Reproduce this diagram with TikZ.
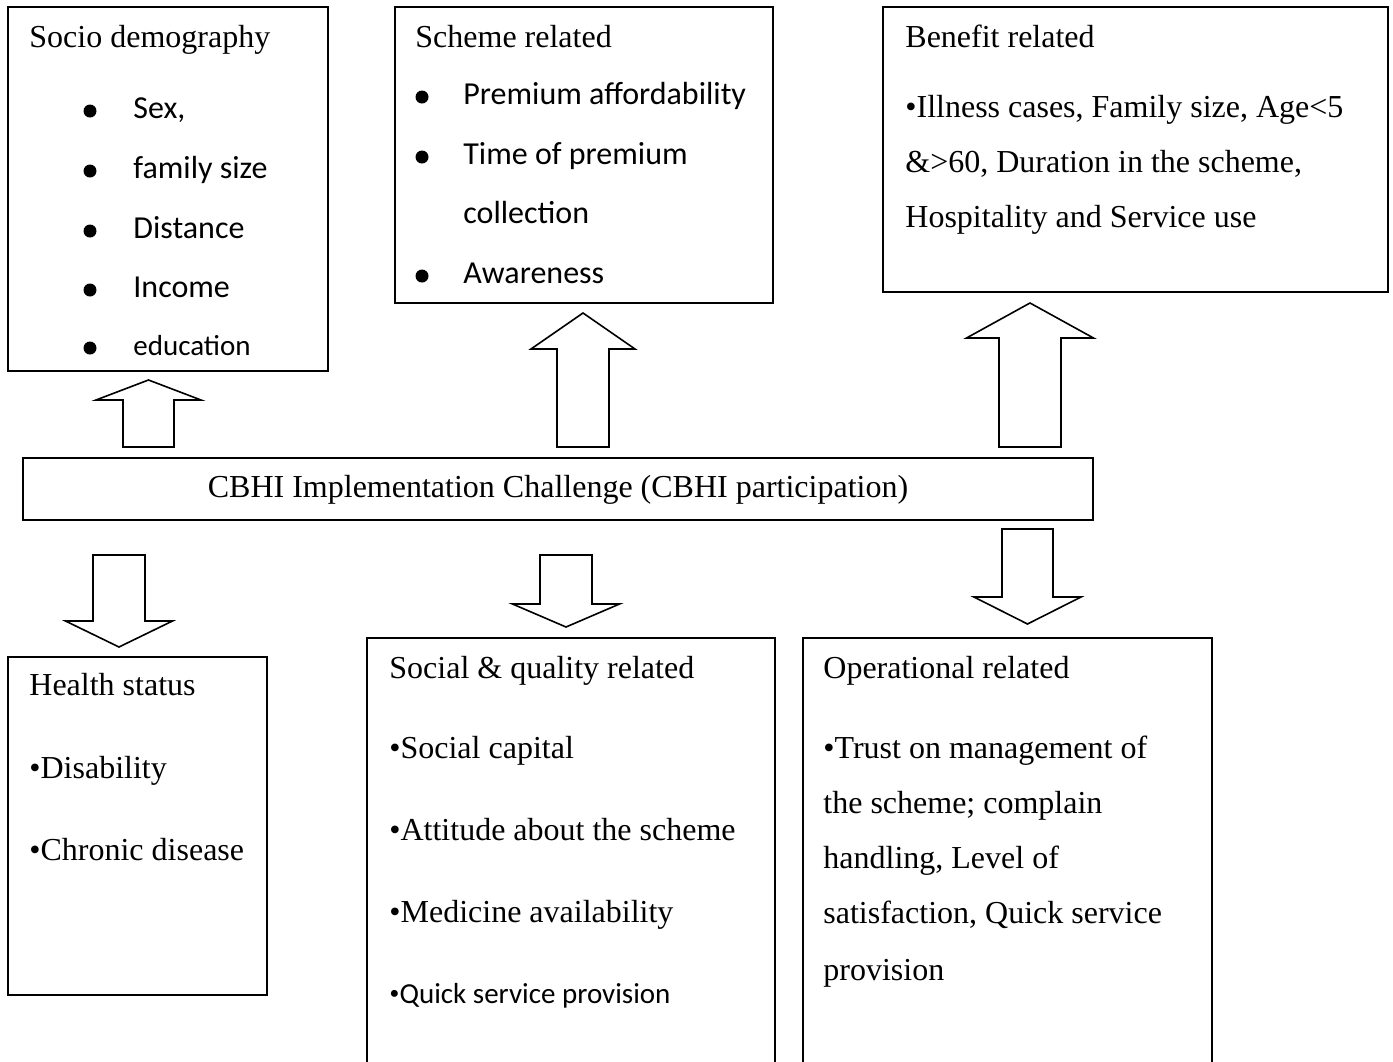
\documentclass[tikz,border=0pt]{standalone}
\usepackage{fontspec}
\setmainfont{Liberation Serif}
\newfontfamily\calibri{Carlito}
\usetikzlibrary{fit}

\tikzset{
  box/.style={draw, line width=0.8pt, inner sep=0pt},
  blockarr/.style={draw, line width=0.8pt, line join=miter},
  ttl/.style={anchor=base west, inner sep=0pt, font=\fontsize{16}{19}\selectfont},
  itm/.style={anchor=base west, inner sep=0pt, font=\calibri\fontsize{16}{19}\selectfont},
  smallitm/.style={itm, font=\calibri\fontsize{14.5}{17}\selectfont},
  ctr/.style={anchor=base, inner sep=0pt, font=\fontsize{16}{19}\selectfont},
  dot/.style={circle, fill, inner sep=0pt, minimum size=6.5pt},
}
% centre, tip, head base, end, head half width, shaft half width
\newcommand{\blockarrow}[6]{%
  \draw[blockarr] (#1,#2) -- ({#1+#5},#3) -- ({#1+#6},#3) -- ({#1+#6},#4)
    -- ({#1-#6},#4) -- ({#1-#6},#3) -- ({#1-#5},#3) -- cycle;}

\begin{document}
\begin{tikzpicture}[x=0.5pt, y=-0.5pt]
  \useasboundingbox (0,0) rectangle (1393,1061);

  % boxes
  \node[box, fit={(8,7) (328,371)}] (socio) {};
  \node[box, fit={(395,7) (773,303)}] (scheme) {};
  \node[box, fit={(883,7) (1388,292)}] (benefit) {};
  \node[box, fit={(23,458) (1093,520)}] (cbhi) {};
  \node[box, fit={(8,657) (267,995)}] (health) {};
  \node[box, fit={(367,638) (775,1080)}] (social) {};
  \node[box, fit={(803,638) (1212,1080)}] (oper) {};

  % socio demography
  \node[ttl] (socio-t) at (29,47) {Socio demography};
  \node[dot] (socio-d1) at (90,111) {};
  \node[dot] (socio-d2) at (90,171) {};
  \node[dot] (socio-d3) at (90,231) {};
  \node[dot] (socio-d4) at (90,290) {};
  \node[dot] (socio-d5) at (90,348) {};
  \node[itm] (socio-1) at (133,118) {Sex,};
  \node[itm] (socio-2) at (133,178) {family size};
  \node[itm] (socio-3) at (133,238) {Distance};
  \node[itm] (socio-4) at (133,297) {Income};
  \node[smallitm] (socio-5) at (133,355) {education};

  % scheme related
  \node[ttl] (scheme-t) at (415,47) {Scheme related};
  \node[dot] (scheme-d1) at (422,97) {};
  \node[dot] (scheme-d2) at (422,157) {};
  \node[dot] (scheme-d3) at (422,276) {};
  \node[itm] (scheme-1) at (463,104) {Premium affordability};
  \node[itm] (scheme-2) at (463,164) {Time of premium};
  \node[itm] (scheme-3) at (463,223) {collection};
  \node[itm] (scheme-4) at (463,283) {Awareness};

  % benefit related
  \node[ttl] (benefit-t) at (905,47) {Benefit related};
  \node[ttl] (benefit-1) at (905,117) {\textbullet Illness cases, Family size, Age<5};
  \node[ttl] (benefit-2) at (905,172) {\&>60, Duration in the scheme,};
  \node[ttl] (benefit-3) at (905,227) {Hospitality and Service use};

  % centre
  \node[ctr] (cbhi-t) at (558,497) {CBHI Implementation Challenge (CBHI participation)};

  % health status
  \node[ttl] (health-t) at (29,695) {Health status};
  \node[ttl] (health-1) at (29,778) {\textbullet Disability};
  \node[ttl] (health-2) at (29,860) {\textbullet Chronic disease};

  % social and quality
  \node[ttl] (social-t) at (389,678) {Social \& quality related};
  \node[ttl] (social-1) at (389,758) {\textbullet Social capital};
  \node[ttl] (social-2) at (389,840) {\textbullet Attitude about the scheme};
  \node[ttl] (social-3) at (389,922) {\textbullet Medicine availability};
  \node[smallitm] (social-4) at (389,1003) {{\normalfont\textbullet}Quick service provision};

  % operational
  \node[ttl] (oper-t) at (823,678) {Operational related};
  \node[ttl] (oper-1) at (823,758) {\textbullet Trust on management of};
  \node[ttl] (oper-2) at (823,813) {the scheme; complain};
  \node[ttl] (oper-3) at (823,868) {handling, Level of};
  \node[ttl] (oper-4) at (823,923) {satisfaction, Quick service};
  \node[ttl] (oper-5) at (823,980) {provision};

  % block arrows
  \blockarrow{148.5}{380}{400}{447}{52.5}{25.5}
  \blockarrow{583}{313}{349}{447}{52}{26}
  \blockarrow{1030}{303}{338}{447}{63.5}{31}
  \blockarrow{119}{647}{621}{555}{53.5}{26}
  \blockarrow{566}{627}{604}{555}{53.5}{26}
  \blockarrow{1027.5}{624}{597}{529}{53.5}{25.5}
\end{tikzpicture}
\end{document}
